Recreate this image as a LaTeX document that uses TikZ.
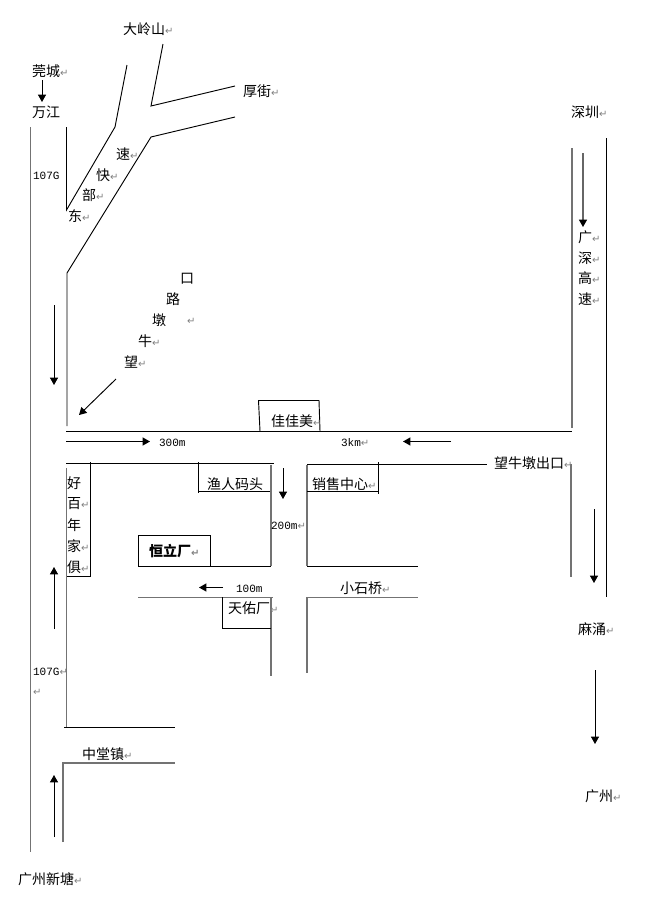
\documentclass[tikz,border=0pt]{standalone}
\usepackage{fontspec}
\setmainfont{Noto Sans CJK SC}
\newfontfamily\symf{DejaVu Sans}
\newfontfamily\latf{Liberation Mono}
\usetikzlibrary{arrows.meta}
\definecolor{rmark}{gray}{0.5}
\newcommand{\rmk}{{\symf\fontsize{7.5pt}{8pt}\selectfont\textcolor{rmark}{↵}}}
\newcommand{\lat}[1]{{\latf\fontsize{8.3pt}{9pt}\selectfont #1}}
\tikzset{
  x=0.75pt,y=-0.75pt,
  road/.style={draw=black,line width=0.7pt},
  groad/.style={draw=black!55,line width=0.9pt},
  arr/.style={draw=black,line width=0.7pt,-{Triangle[length=5.5pt,width=6pt]}},
  garr/.style={arr,draw=black!60,line width=0.9pt,-{Triangle[length=5.5pt,width=6pt,color=black]}},
  lbl/.style={anchor=west,inner sep=0pt,outer sep=0pt,font=\fontsize{10.5pt}{12pt}\selectfont,text=black},
}
\begin{document}
\begin{tikzpicture}
\useasboundingbox (0,0) rectangle (652,904);
% left highway
\draw[groad] (30.5,127) -- (30.5,852);
\draw[road] (66.5,127) -- (66.5,210) -- (115,127) -- (127,65);
\draw[road] (67,426) -- (67,273) -- (151,137) -- (235,117);
\draw[road] (163,44) -- (151,106) -- (235,86);
% main road
\draw[road] (66,431.5) -- (572,431.5);
\draw[groad] (572,148) -- (572,428);
\draw[road] (606,138) -- (606,597);
\draw[groad] (571,464) -- (571,577);
% jiajiamei
\draw[road] (260,431) -- (258.5,400.5) -- (319,400.5) -- (320,431);
% lower left block
\draw[road] (66,463.5) -- (274,463.5);
\draw[road] (90.5,462) -- (90.5,576.5) -- (66,576.5);
\draw[groad] (66.5,468) -- (66.5,727);
\draw[road] (64,727.5) -- (175,727.5);
\draw[road] (198.5,462) -- (198.5,493);
\draw[road] (198,491.5) -- (271,491.5);
\draw[groad] (271,465) -- (271,566);
\draw[road] (138.5,566.5) -- (138.5,535.5) -- (210.5,535.5) -- (210.5,566.5);
\draw[road] (138,566.5) -- (271,566.5);
% right of side road
\draw[groad] (307,465) -- (307,566);
\draw[road] (307,464.5) -- (487,464.5);
\draw[road] (378.5,462) -- (378.5,494);
\draw[road] (307,491.5) -- (378,491.5);
\draw[road] (307,566.5) -- (418,566.5);
% lower road
\draw[groad] (138,597.5) -- (273,597.5);
\draw[groad] (271,597) -- (271,676);
\draw[road] (222.5,597) -- (222.5,628.5) -- (271,628.5);
\draw[groad] (307,597) -- (307,673);
\draw[groad] (307,597.5) -- (418,597.5);
% zhongtang
\draw[groad] (63,842) -- (63,763) -- (175,763);
% arrows
\draw[arr] (42,80) -- (42,102);
\draw[arr] (54,305) -- (54,385);
\draw[arr] (116,379) -- (79,415);
\draw[arr] (66,441.5) -- (150,441.5);
\draw[arr] (451,441.5) -- (403,441.5);
\draw[arr] (283,468) -- (283,499);
\draw[arr] (223,587.5) -- (199,587.5);
\draw[arr] (54,629) -- (54,567);
\draw[arr] (54,837) -- (54,775);
\draw[garr] (583,153) -- (583,227);
\draw[arr] (594,509) -- (594,583);
\draw[arr] (595,670) -- (595,744);
% labels
\node[lbl] (dl) at (123,29) {大岭山\rmk};
\node[lbl] (gc) at (32,71) {莞城\rmk};
\node[lbl] (wj) at (32,112) {万江};
\node[lbl] (hj) at (243,91) {厚街\rmk};
\node[lbl] (sz) at (571,112) {深圳\rmk};
\node[lbl] (g1) at (33,176) {\lat{107G}};
\node[lbl] (su) at (116,154) {速\rmk};
\node[lbl] (kuai) at (96,175) {快\rmk};
\node[lbl] (bu) at (82,195) {部\rmk};
\node[lbl] (dong) at (68,216) {东\rmk};
\node[lbl] (kou) at (180,279) {口};
\node[lbl] (lu) at (166,299) {路};
\node[lbl] (dun) at (152,320) {墩};
\node[lbl] (dunm) at (187,321) {\rmk};
\node[lbl] (niu) at (138,341) {牛\rmk};
\node[lbl] (wang) at (124,362) {望\rmk};
\node[lbl] (g) at (578,237) {广\rmk};
\node[lbl] (sh) at (578,258) {深\rmk};
\node[lbl] (ga) at (578,278) {高\rmk};
\node[lbl] (sp) at (578,299) {速\rmk};
\node[lbl] (jjm) at (271,421) {佳佳美\rmk};
\node[lbl] (m300) at (159,443) {\lat{300m}};
\node[lbl] (km3) at (341,443) {\lat{3km}\rmk};
\node[lbl] (wnd) at (494,463) {望牛墩出口\rmk};
\node[lbl] (hao) at (67,483) {好};
\node[lbl] (bai) at (67,504) {百\rmk};
\node[lbl] (nian) at (67,525) {年};
\node[lbl] (jia) at (67,546) {家\rmk};
\node[lbl] (ju) at (67,567) {俱\rmk};
\node[lbl] (yr) at (207,484) {渔人码头};
\node[lbl] (xs) at (312,484) {销售中心\rmk};
\node[lbl] (m200) at (271,526) {\lat{200m}\rmk};
\node[lbl,font=\fontsize{10.5pt}{12pt}\selectfont\bfseries] (hl) at (149,551) {恒立厂\rmk};
\node[lbl] (m100) at (236,589) {\lat{100m}};
\node[lbl] (xsq) at (340,588) {小石桥\rmk};
\node[lbl] (ty) at (228,608) {天佑厂\rmk};
\node[lbl] (mc) at (578,629) {麻涌\rmk};
\node[lbl] (g2) at (33,672) {\lat{107G}\rmk};
\node[lbl] (m2) at (33,692) {\rmk};
\node[lbl] (zt) at (82,754) {中堂镇\rmk};
\node[lbl] (gz) at (585,796) {广州\rmk};
\node[lbl] (xt) at (18,879) {广州新塘\rmk};
\end{tikzpicture}
\end{document}
